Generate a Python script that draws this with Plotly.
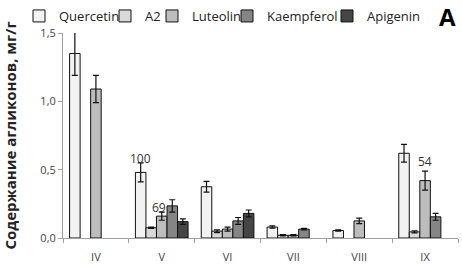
import plotly.graph_objects as go

months = ["IV", "V", "VI", "VII", "VIII", "IX"]
series_names = ["Quercetin", "A2", "Luteolin", "Kaempferol", "Apigenin"]
quercetin = [1.35, 0.48, 0.375, 0.08, 0.055, 0.62]
quercetin_err = [0.16, 0.07, 0.04, 0.008, 0.005, 0.065]
a2 = [None, 0.075, 0.05, 0.02, None, 0.045]
a2_err = [0, 0.005, 0.01, 0.004, 0, 0.008]
luteolin = [1.09, 0.16, 0.065, 0.02, 0.125, 0.42]
luteolin_err = [0.1, 0.03, 0.015, 0.004, 0.02, 0.07]
kaempferol = [None, 0.235, 0.125, 0.065, None, 0.155]
kaempferol_err = [0, 0.045, 0.025, 0.005, 0, 0.025]
apigenin = [None, 0.12, 0.18, None, None, None]
apigenin_err = [0, 0.02, 0.025, 0, 0, 0]
colors = ["#f2f2f2", "#d9d9d9", "#bdbdbd", "#858585", "#454545"]

# labels above bars: (month index, series index, text, y)
bar_labels = [(1, 0, "100", 0.58), (1, 2, "69", 0.225), (5, 2, "54", 0.56)]

values = [quercetin, a2, luteolin, kaempferol, apigenin]
errors = [quercetin_err, a2_err, luteolin_err, kaempferol_err, apigenin_err]

# legend entry left positions (px, container)
legend_px = [19, 105, 152, 227, 327]
legend_keys = ["legend", "legend2", "legend3", "legend4", "legend5"]

fig = go.Figure()
for name, v, e, c, lk in zip(series_names, values, errors, colors, legend_keys):
    fig.add_trace(go.Bar(
        x=months, y=v, name=name, legend=lk,
        marker=dict(color=c, line=dict(color="#111111", width=1)),
        error_y=dict(type="data", array=e, color="#111111", thickness=1.2, width=3, visible=True),
        cliponaxis=False,
    ))

bargap = 0.2
w = (1 - bargap) / 5
for mi, si, txt, yv in bar_labels:
    fig.add_annotation(x=mi + (si - 2) * w, y=yv, xref="x", yref="y", text=txt,
                       showarrow=False, font=dict(size=12, color="#333333"),
                       xshift=-3 if txt == "69" else 0)

fig.add_annotation(x=1.0, y=1.0, xref="paper", yref="paper", xanchor="right", yanchor="bottom",
                   yshift=-2, text="<b>A</b>", showarrow=False, font=dict(size=24, color="black"))

legend_common = dict(orientation="h", yref="container", xref="container", y=1 - 16 / 268, yanchor="middle",
                     xanchor="left", font=dict(size=13, color="#222222"), bgcolor="rgba(0,0,0,0)",
                     itemwidth=30, borderwidth=0)
layout_legends = {}
for lk, px in zip(legend_keys, legend_px):
    layout_legends[lk] = dict(legend_common, x=px / 462)

fig.update_layout(
    width=462, height=268,
    margin=dict(l=63, r=4, t=33, b=30, autoexpand=False),
    barmode="group", bargap=bargap, bargroupgap=0,
    plot_bgcolor="white", paper_bgcolor="white",
    font=dict(family="Open Sans, Liberation Sans, sans-serif", size=11, color="#333333"),
    showlegend=True,
    **layout_legends,
)
fig.update_xaxes(showline=True, linecolor="#a0a0a0", linewidth=1,
                 ticks="outside", tickson="boundaries", ticklen=4, tickcolor="#a0a0a0",
                 ticklabelstandoff=9, tickfont=dict(size=11, color="#444444"))
fig.update_yaxes(range=[0, 1.5], tickvals=[0, 0.5, 1.0, 1.5],
                 ticktext=["0,0", "0,5", "1,0", "1,5"],
                 showline=True, linecolor="#a0a0a0", linewidth=1, showgrid=False, zeroline=False,
                 ticks="outside", ticklen=4, tickcolor="#a0a0a0", tickfont=dict(size=11, color="#444444"),
                 title=dict(text="<b>Содержание агликонов, мг/г</b>", font=dict(size=15, color="#222222"), standoff=25))

fig.write_html("out.html", config={"displayModeBar": False},
               post_script="document.body.style.margin='0';document.body.style.padding='0';")
